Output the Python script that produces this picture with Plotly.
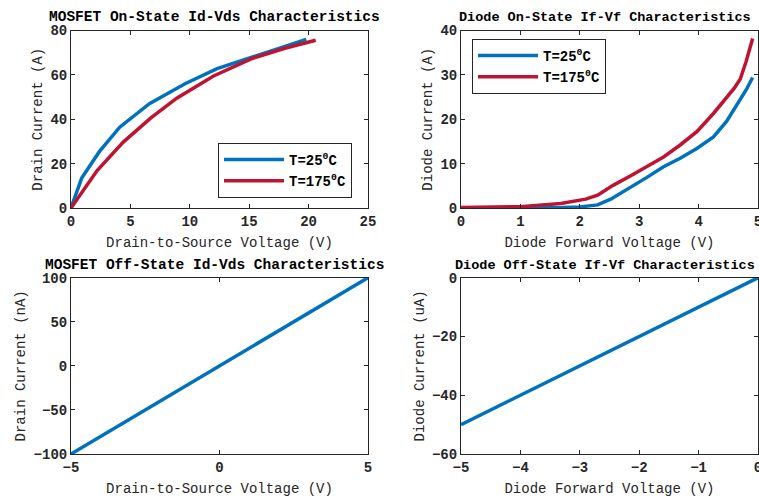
import plotly.graph_objects as go

# MOSFET on-state
mos_on_v25 = [0, 0.9, 2.4, 4.1, 6.6, 9.6, 12.3, 15.4, 19.8]
mos_on_i25 = [0, 13.5, 25.5, 36.4, 47, 56, 62.8, 68.3, 76]
mos_on_v175 = [0, 2.2, 4.4, 6.7, 8.9, 12.0, 15.3, 18.0, 20.6]
mos_on_i175 = [0, 16.9, 29.7, 40.5, 49.5, 59.5, 67.5, 72.0, 75.6]

# Diode on-state
di_on_v25 = [0, 1.0, 1.7, 2.0, 2.3, 2.52, 2.85, 3.13, 3.41, 3.69, 3.97, 4.25, 4.47, 4.64, 4.8, 4.91]
di_on_i25 = [0, 0.02, 0.1, 0.25, 0.7, 2.0, 4.6, 6.9, 9.3, 11.2, 13.4, 16.0, 19.5, 23.0, 26.6, 29.4]
di_on_v175 = [0, 1.0, 1.68, 1.9, 2.1, 2.3, 2.56, 2.85, 3.13, 3.41, 3.69, 3.97, 4.25, 4.42, 4.6, 4.7, 4.8, 4.91]
di_on_i175 = [0.1, 0.3, 1.0, 1.5, 2.0, 2.9, 5.1, 7.2, 9.3, 11.5, 14.2, 17.2, 21.3, 24.0, 27.0, 29.0, 33.0, 38.2]

# Off-state
mos_off_v = [-5, 0, 5]
mos_off_i = [-100, 0, 100]
di_off_v = [-5, -2.5, 0]
di_off_i = [-50, -25, 0]

labels = ["T=25<sup>0</sup>C", "T=175<sup>0</sup>C"]
BLUE = "#0072BD"
RED = "#BE1432"
FONT = "Liberation Mono"
TXT = "#262626"

fig = go.Figure()
lw = 3.5
fig.add_trace(go.Scatter(x=mos_on_v25, y=mos_on_i25, mode="lines", line=dict(color=BLUE, width=lw), name=labels[0], xaxis="x", yaxis="y", legend="legend"))
fig.add_trace(go.Scatter(x=mos_on_v175, y=mos_on_i175, mode="lines", line=dict(color=RED, width=lw), name=labels[1], xaxis="x", yaxis="y", legend="legend"))
fig.add_trace(go.Scatter(x=di_on_v25, y=di_on_i25, mode="lines", line=dict(color=BLUE, width=lw), name=labels[0], xaxis="x2", yaxis="y2", legend="legend2"))
fig.add_trace(go.Scatter(x=di_on_v175, y=di_on_i175, mode="lines", line=dict(color=RED, width=lw), name=labels[1], xaxis="x2", yaxis="y2", legend="legend2"))
fig.add_trace(go.Scatter(x=mos_off_v, y=mos_off_i, mode="lines", line=dict(color=BLUE, width=lw), showlegend=False, xaxis="x3", yaxis="y3"))
fig.add_trace(go.Scatter(x=di_off_v, y=di_off_i, mode="lines", line=dict(color=BLUE, width=lw), showlegend=False, xaxis="x4", yaxis="y4"))

W, H = 759, 502
def px(x): return x / W
def py(y): return 1 - y / H

xl = [px(71), px(368)]
xr = [px(461), px(758)]
yt = [py(208), py(30.5)]
yb = [py(454), py(277.7)]

tickfont = dict(family=FONT, size=14, color=TXT, weight="bold")
titlefont = dict(family=FONT, size=14, color=TXT)

def ax(domain, anchor, rng, dtick, title, standoff):
    return dict(domain=domain, anchor=anchor, range=rng, dtick=dtick, ticks="inside", ticklen=4,
                tickcolor="#262626", showline=True, linecolor="#262626", linewidth=1, mirror="ticks",
                showgrid=False, zeroline=False, tickfont=tickfont, automargin=False,
                ticklabeloverflow="allow",
                title=dict(text=title, font=titlefont, standoff=standoff), fixedrange=True)

legfont = dict(family=FONT, size=14, color="black", weight="bold")
fig.update_layout(
    width=W, height=H, margin=dict(l=0, r=0, t=0, b=0),
    paper_bgcolor="white", plot_bgcolor="white",
    xaxis=ax(xl, "y", [0, 25], 5, "Drain-to-Source Voltage (V)", 8),
    yaxis=ax(yt, "x", [0, 80], 20, "Drain Current (A)", 4),
    xaxis2=ax(xr, "y2", [0, 5], 1, "Diode Forward Voltage (V)", 8),
    yaxis2=ax(yt, "x2", [0, 40], 10, "Diode Current (A)", 4),
    xaxis3=ax(xl, "y3", [-5, 5], 5, "Drain-to-Source Voltage (V)", 8),
    yaxis3=ax(yb, "x3", [-100, 100], 50, "Drain Current (nA)", 4),
    xaxis4=ax(xr, "y4", [-5, 0], 1, "Diode Forward Voltage (V)", 8),
    yaxis4=ax(yb, "x4", [-60, 0], 20, "Diode Current (uA)", 4),
    legend=dict(x=px(218), y=py(143), xanchor="left", yanchor="top", bordercolor="#262626", borderwidth=1,
                bgcolor="white", font=legfont, itemwidth=60, tracegroupgap=0),
    legend2=dict(x=px(472), y=py(39), xanchor="left", yanchor="top", bordercolor="#262626", borderwidth=1,
                 bgcolor="white", font=legfont, itemwidth=60, tracegroupgap=0),
    showlegend=True,
)

titles = [
    ("MOSFET On-State Id-Vds Characteristics", px(214), py(27), 14.5),
    ("Diode On-State If-Vf Characteristics", px(605), py(27), 13.5),
    ("MOSFET Off-State Id-Vds Characteristics", px(214), py(275), 14.5),
    ("Diode Off-State If-Vf Characteristics", px(605), py(275), 13.5),
]
for t, x, y, s in titles:
    fig.add_annotation(text=t, x=x, y=y, xref="paper", yref="paper", xanchor="center", yanchor="bottom",
                       showarrow=False, font=dict(family=FONT, size=s, color="black", weight="bold"), yshift=0)

fig.write_html("out.html")
